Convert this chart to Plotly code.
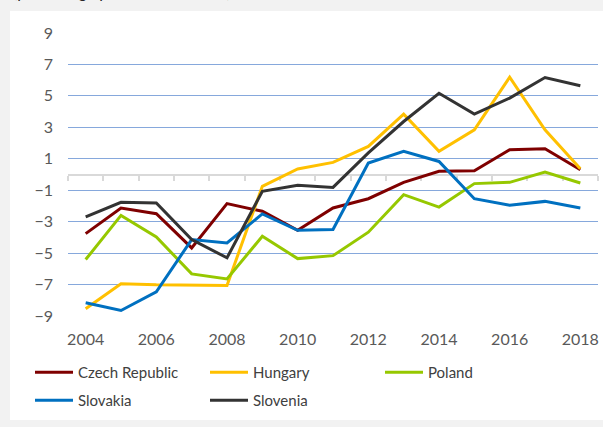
import plotly.graph_objects as go

# Years on the category axis
years = list(range(2004, 2019))

# Change by country (percentage points)
czech = [-3.76, -2.13, -2.49, -4.67, -1.85, -2.34, -3.55, -2.13, -1.54, -0.50, 0.20, 0.24, 1.57, 1.64, 0.30]
hungary = [-8.54, -6.95, -7.02, -7.05, -7.06, -0.75, 0.35, 0.77, 1.79, 3.84, 1.47, 2.84, 6.19, 2.84, 0.37]
poland = [-5.41, -2.60, -3.97, -6.32, -6.64, -3.93, -5.35, -5.16, -3.67, -1.28, -2.07, -0.58, -0.50, 0.16, -0.54]
slovakia = [-8.16, -8.65, -7.46, -4.14, -4.35, -2.51, -3.55, -3.50, 0.73, 1.47, 0.83, -1.54, -1.96, -1.71, -2.13]
slovenia = [-2.70, -1.77, -1.81, -4.14, -5.30, -1.07, -0.69, -0.82, 1.37, 3.37, 5.17, 3.84, 4.86, 6.17, 5.64]

series_names = ["Czech Republic", "Hungary", "Poland", "Slovakia", "Slovenia"]
series_values = [czech, hungary, poland, slovakia, slovenia]
series_colors = ["#7f0000", "#ffc000", "#96c800", "#0070c0", "#333333"]
legend_ids = ["legend", "legend", "legend", "legend2", "legend2"]

y_ticks = list(range(-9, 10, 2))
x_ticks = list(range(2004, 2019, 2))
category_edges = [y - 0.5 for y in range(2004, 2020)]

FONT = "Lato, 'Open Sans', sans-serif"

fig = go.Figure()

for name, vals, col, lg in zip(series_names, series_values, series_colors, legend_ids):
    fig.add_trace(go.Scatter(
        x=years, y=vals, name=name, mode="lines",
        line=dict(color=col, width=3),
        legend=lg,
    ))

# empty trace so the zero-crossing category axis is built
fig.add_trace(go.Scatter(x=[], y=[], xaxis="x2", showlegend=False, hoverinfo="skip"))

L, R, T, B = 68, 5, 33, 111
W, H = 603, 427
pw, ph = W - L - R, H - T - B

def px_x(p):
    return (p - L) / pw

def px_y(p):
    return (H - B - p) / ph

fig.add_shape(type="rect", xref="paper", yref="paper",
              x0=px_x(10), x1=px_x(603), y0=px_y(420), y1=px_y(11),
              fillcolor="white", line=dict(width=0), layer="below")

fig.add_annotation(text="(percentage points, cumulative)", xref="paper", yref="paper",
                   x=px_x(11), y=px_y(-9), xanchor="left", yanchor="middle",
                   showarrow=False, font=dict(family=FONT, size=16, color="#262626"))

legend_style = dict(
    orientation="h", xanchor="left", yanchor="top",
    entrywidth=122, entrywidthmode="pixels", itemwidth=38,
    font=dict(family=FONT, size=15, color="#404040"), bgcolor="rgba(0,0,0,0)",
)

fig.update_layout(
    width=W, height=H,
    margin=dict(l=L, r=R, t=T, b=B),
    paper_bgcolor="#f2f2f2",
    plot_bgcolor="white",
    font=dict(family=FONT, size=16, color="#595959"),
    xaxis=dict(
        range=[2003.5, 2018.5], tickvals=x_ticks, ticktext=[str(v) for v in x_ticks],
        showgrid=False, zeroline=False, showline=False, ticks="",
        ticklabelstandoff=12, tickfont=dict(size=16, color="#595959"),
    ),
    xaxis2=dict(
        overlaying="x", anchor="free", position=0.5, side="bottom",
        range=[2003.5, 2018.5], tickvals=category_edges, showticklabels=False,
        showgrid=False, zeroline=False, showline=True, linecolor="#d9d9d9", linewidth=2,
        ticks="outside", ticklen=5, tickwidth=2, tickcolor="#d9d9d9", layer="below traces",
    ),
    yaxis=dict(
        range=[-9, 9], tickvals=y_ticks, showgrid=True, gridcolor="#86a8dc", gridwidth=1,
        zeroline=False, showline=False, ticks="", ticklabelstandoff=14,
        tickfont=dict(size=16, color="#595959"),
    ),
    legend=dict(x=px_x(30), y=px_y(356), **legend_style),
    legend2=dict(x=px_x(30), y=px_y(384), **legend_style),
    showlegend=True,
)

fig.write_html("out.html")
